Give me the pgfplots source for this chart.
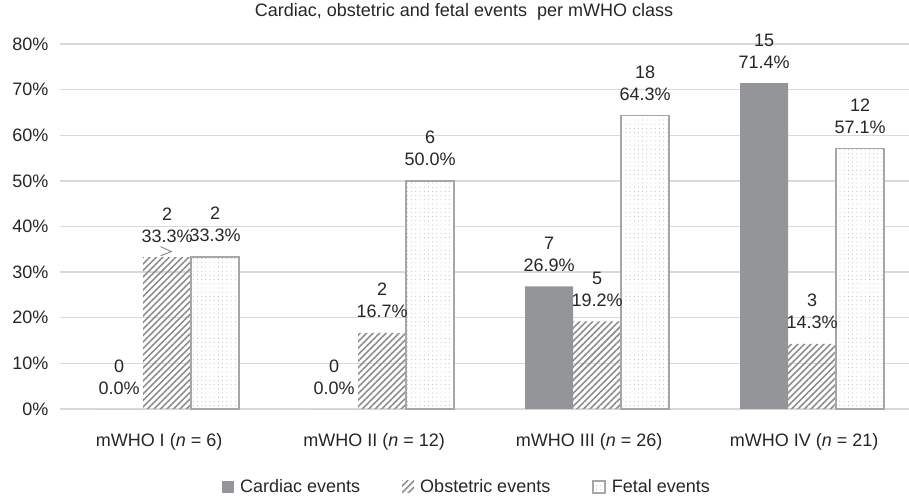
\documentclass[border=0pt]{standalone}
\usepackage{fontspec}
\setmainfont{Liberation Sans}
\setsansfont{Liberation Sans}
\usepackage{pgfplots}
\pgfplotsset{compat=1.18}
\usetikzlibrary{patterns.meta}
\definecolor{cardiac}{HTML}{939598}
\definecolor{stripe}{HTML}{8E8E8E}
\definecolor{dotc}{HTML}{A8A8A8}
\definecolor{fetalline}{HTML}{A6A6A6}
\definecolor{gridc}{HTML}{D9D9D9}
\definecolor{txt}{HTML}{262626}
\newcommand\cf{\fontsize{18bp}{22bp}\selectfont}
\begin{document}
\cf\color{txt}%
\begin{tikzpicture}
\useasboundingbox (0,0) rectangle (909bp,498bp);
\node[font=\cf, text=txt] at (464bp,486bp) {Cardiac, obstetric and fetal events\ \ per mWHO class};
\begin{axis}[
  at={(59.5bp,89bp)}, anchor=south west,
  scale only axis, width=849.5bp, height=365bp,
  /pgf/number format/assume math mode=true,
  ybar, bar width=48bp,
  xmin=-0.5, xmax=3.45, ymin=0, ymax=80,
  ytick={0,10,...,80},
  yticklabel={\pgfmathprintnumber{\tick}\%},
  xtick={0,1,2,3},
  xticklabels={mWHO I (\textit{n} = 6), mWHO II (\textit{n} = 12), mWHO III (\textit{n} = 26), mWHO IV (\textit{n} = 21)},
  xticklabel style={font=\cf, text=txt, yshift=-18bp, xshift=-8bp},
  yticklabel style={font=\cf, text=txt, xshift=-5bp},
  major tick length=0pt,
  axis line style={draw=none},
  ymajorgrids, grid style={gridc, line width=1.3bp},
  clip=false,
  point meta=explicit symbolic,
  nodes near coords={\pgfplotspointmeta\\\pgfmathprintnumber[fixed,fixed zerofill,precision=1]{\pgfkeysvalueof{/data point/y}}\%},
  every node near coord/.append style={font=\cf, text=txt, align=center, anchor=south, yshift=12.5bp, inner sep=2bp},
  legend style={at={(0.4797,-0.2137)}, anchor=center, draw=none, fill=none, font=\cf, text=txt,
    legend columns=3, /tikz/every even column/.append style={column sep=40bp}},
  legend image code/.code={\path[#1] (0bp,-6bp) rectangle (12bp,6bp);},
]
\addplot[fill=cardiac, draw=none, bar shift=-48bp] coordinates {(0,0) [0] (1,0) [0] (2,26.9) [7] (3,71.4) [15]};
\addplot[draw=none, pattern={Lines[angle=45,distance=4.6bp,line width=1.6bp]}, pattern color=stripe, bar shift=0bp] coordinates {(0,33.3) [2] (1,16.7) [2] (2,19.2) [5] (3,14.3) [3]};
\addplot[draw=fetalline, line width=1.5bp, fill=white, postaction={pattern={Dots[distance=4.2bp,radius=0.45bp]}, pattern color=dotc}, bar shift=48bp] coordinates {(0,33.3) [2] (1,50.0) [6] (2,64.3) [18] (3,57.1) [12]};
\legend{\hspace{4bp}Cardiac events, \hspace{4bp}Obstetric events, \hspace{4bp}Fetal events}
\draw[stripe, line width=1bp] (axis cs:-0.03,35.6) -- (axis cs:0.02,34.5) -- (axis cs:-0.03,33.6);
\end{axis}
\end{tikzpicture}
\end{document}
